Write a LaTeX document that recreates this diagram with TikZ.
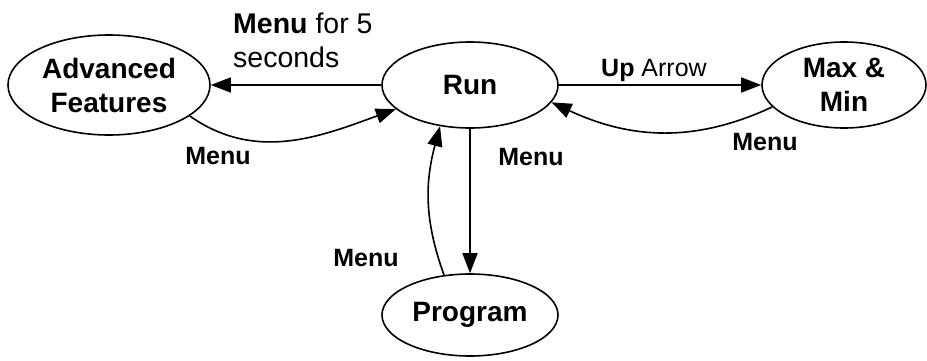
\documentclass[tikz,border=0pt]{standalone}
\usepackage{fontspec}
\setmainfont{Liberation Sans}
\usetikzlibrary{shapes.geometric,arrows.meta}
\begin{document}
\begin{tikzpicture}[x=1pt,y=1pt,
  state/.style={ellipse, draw, line width=1.6pt, inner sep=0pt, align=center,
    font=\bfseries\fontsize{28}{34}\selectfont},
  lbl/.style={font=\bfseries\fontsize{25}{30}\selectfont, inner sep=0pt},
  conn/.style={line width=1.6pt, -{Triangle[length=20pt,width=15pt]}}]
\useasboundingbox (0,0) rectangle (927,360);
\node[state, minimum width=202pt, minimum height=100pt] (af) at (109,275) {Advanced\\Features};
\node[state, minimum width=176pt, minimum height=86pt] (run) at (470,275) {Run};
\node[state, minimum width=164pt, minimum height=86pt] (mm) at (844,275) {Max \&\\Min};
\node[state, minimum width=176pt, minimum height=82pt] (prog) at (470,45) {Program};
\draw[conn] (run.west) -- (af.east);
\draw[conn] (run.east) -- (mm.west);
\draw[conn] (run.south) -- (prog.north);
\draw[conn] (af.339) to[out=-35,in=200] (run.198);
\draw[conn] (mm.197) to[out=205,in=-25] (run.348);
\draw[conn] (prog.123) to[out=110,in=255] (run.234);
\node[font=\fontsize{28.5}{34}\selectfont, align=left, anchor=north west, inner sep=0pt] (l1) at (233,347) {\textbf{Menu} for 5\\seconds};
\node[font=\fontsize{25}{30}\selectfont, inner sep=0pt] (l2) at (654,290) {\textbf{Up} Arrow};
\node[lbl] (l3) at (218,204) {Menu};
\node[lbl] (l4) at (531,203) {Menu};
\node[lbl] (l5) at (765,218) {Menu};
\node[lbl] (l6) at (366,102) {Menu};
\end{tikzpicture}
\end{document}
